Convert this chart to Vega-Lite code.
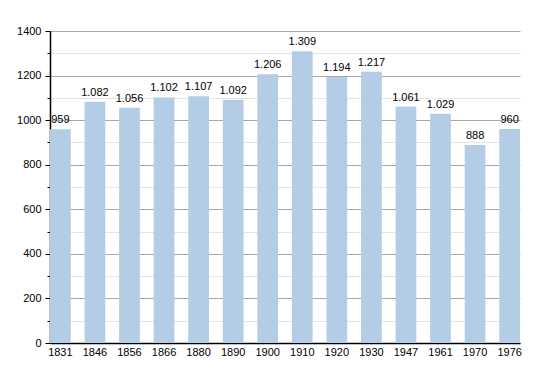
{
  "$schema": "https://vega.github.io/schema/vega-lite/v6.json",
  "width": 470,
  "height": 312,
  "autosize": {"type": "none"},
  "padding": {"left": 50, "top": 31, "right": 30, "bottom": 30},
  "background": "white",
  "config": {
    "locale": {"number": {"decimal": ",", "thousands": ".", "grouping": [3], "currency": ["", " €"]}},
    "view": {"stroke": null},
    "font": "Liberation Sans"
  },
  "data": {
    "values": [
      {"year": "1831", "pop": 959},
      {"year": "1846", "pop": 1082},
      {"year": "1856", "pop": 1056},
      {"year": "1866", "pop": 1102},
      {"year": "1880", "pop": 1107},
      {"year": "1890", "pop": 1092},
      {"year": "1900", "pop": 1206},
      {"year": "1910", "pop": 1309},
      {"year": "1920", "pop": 1194},
      {"year": "1930", "pop": 1217},
      {"year": "1947", "pop": 1061},
      {"year": "1961", "pop": 1029},
      {"year": "1970", "pop": 888},
      {"year": "1976", "pop": 960}
    ]
  },
  "encoding": {
    "x": {
      "field": "year", "type": "ordinal", "sort": null,
      "scale": {"paddingInner": 0.4, "paddingOuter": 0},
      "axis": {"title": null, "labelAngle": 0, "ticks": false, "domainColor": "black", "domainWidth": 1.5, "labelFontSize": 11, "labelColor": "black", "labelPadding": 3, "labelFont": "Liberation Sans"}
    },
    "y": {
      "field": "pop", "type": "quantitative",
      "scale": {"domain": [0, 1400], "nice": false},
      "axis": {
        "title": null,
        "values": [0, 100, 200, 300, 400, 500, 600, 700, 800, 900, 1000, 1100, 1200, 1300, 1400],
        "format": "d",
        "labelExpr": "datum.value % 200 === 0 ? datum.label : ''",
        "gridColor": {"condition": {"test": "datum.value % 200 === 0", "value": "#a8a8a8"}, "value": "#e4e4e4"},
        "tickSize": {"condition": {"test": "datum.value % 200 === 0", "value": 5}, "value": 3},
        "tickColor": "black",
        "domainColor": "black",
        "domainWidth": 1.5,
        "labelFontSize": 11,
        "labelColor": "black",
        "labelPadding": 4,
        "labelFont": "Liberation Sans"
      }
    }
  },
  "layer": [
    {"mark": {"type": "bar", "color": "#b3cde6"}},
    {
      "mark": {"type": "text", "baseline": "bottom", "dy": -4, "fontSize": 11, "color": "black", "font": "Liberation Sans"},
      "encoding": {"text": {"field": "pop", "type": "quantitative", "format": ",d"}}
    }
  ]
}
